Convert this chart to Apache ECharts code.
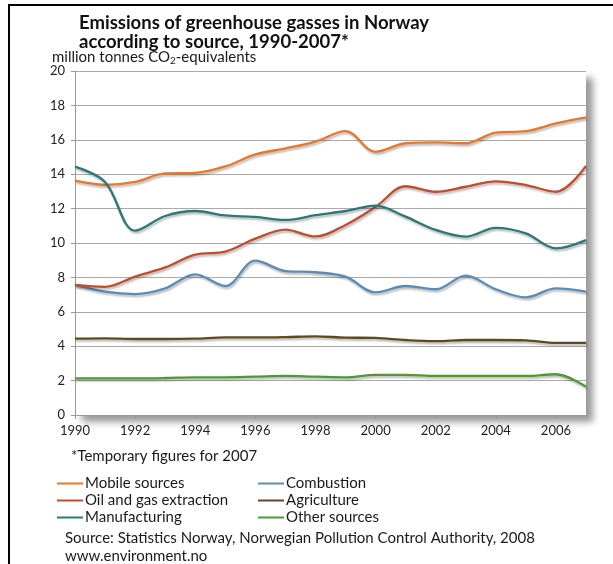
<!DOCTYPE html>
<html>
<head>
<meta charset="utf-8">
<script src="https://cdn.jsdelivr.net/npm/echarts@6/dist/echarts.min.js"></script>
<style>
html,body{margin:0;padding:0;background:#fff;}
#c{width:613px;height:564px;}
</style>
</head>
<body>
<div id="c"></div>
<script>
var years = ['1990','1991','1992','1993','1994','1995','1996','1997','1998','1999','2000','2001','2002','2003','2004','2005','2006','2007'];
var mobileSources = [13.62,13.38,13.55,14.05,14.08,14.45,15.15,15.5,15.9,16.5,15.3,15.8,15.85,15.8,16.42,16.5,16.95,17.3];
var oilGasExtraction = [7.56,7.45,8.05,8.58,9.32,9.5,10.25,10.78,10.38,11.05,12.1,13.3,12.98,13.27,13.58,13.37,12.98,14.48];
var manufacturing = [14.44,13.55,10.72,11.57,11.86,11.6,11.52,11.34,11.62,11.86,12.17,11.53,10.76,10.37,10.88,10.56,9.69,10.17];
var combustion = [7.56,7.17,7.03,7.36,8.18,7.5,8.97,8.37,8.3,8.04,7.13,7.5,7.31,8.1,7.31,6.84,7.36,7.17];
var agriculture = [4.44,4.46,4.42,4.42,4.44,4.51,4.51,4.53,4.57,4.5,4.48,4.36,4.3,4.36,4.36,4.34,4.19,4.19];
var otherSources = [2.13,2.13,2.13,2.15,2.19,2.19,2.23,2.27,2.23,2.19,2.33,2.33,2.27,2.27,2.27,2.27,2.37,1.65];
var yTicks = [0,2,4,6,8,10,12,14,16,18,20];

var FONT = 'Lato, "Open Sans", sans-serif';
var chart = echarts.init(document.getElementById('c'), null, {renderer:'canvas'});

function mkSeries(name, data, color){
  return {
    name: name, type: 'line', data: data, smooth: 0.35, symbol: 'none',
    lineStyle: {color: color, width: 2.3, shadowColor: 'rgba(0,0,0,0.28)', shadowBlur: 2, shadowOffsetX: 1, shadowOffsetY: 2},
    itemStyle: {color: color}
  };
}
var legendText = {fontSize: 15, color: '#1a1a1a', lineHeight: 17, padding: [0,0,0,-3], fontFamily: FONT};

var option = {
  animation: false,
  backgroundColor: '#fff',
  textStyle: {fontFamily: FONT},
  title: {
    text: 'Emissions of greenhouse gasses in Norway\naccording to source, 1990-2007*',
    left: 79, top: 14, padding: 0,
    textStyle: {fontFamily: FONT, fontSize: 18.5, fontWeight: 'bold', color: '#111', lineHeight: 18.5}
  },
  grid: {
    left: 75, right: 27, top: 71, bottom: 149,
    show: true, backgroundColor: '#fff', borderWidth: 0,
    shadowColor: 'rgba(0,0,0,0.4)', shadowBlur: 7, shadowOffsetX: 7, shadowOffsetY: 7
  },
  xAxis: {
    type: 'category', data: years, boundaryGap: false,
    axisLine: {show: true, lineStyle: {color: '#999', width: 1}},
    axisTick: {show: true, length: 4, interval: function(i){return i % 2 === 0;}, lineStyle: {color: '#999'}},
    axisLabel: {interval: function(i){return i % 2 === 0;}, fontSize: 13, color: '#222', margin: 9, fontFamily: FONT},
    splitLine: {show: false}
  },
  yAxis: {
    type: 'value', min: yTicks[0], max: yTicks[yTicks.length-1], interval: 2,
    axisLine: {show: true, lineStyle: {color: '#999', width: 1}},
    axisTick: {show: true, length: 4, lineStyle: {color: '#999'}},
    axisLabel: {fontSize: 13, color: '#222', margin: 10, fontFamily: FONT},
    splitLine: {show: true, lineStyle: {color: '#aaa', width: 1}}
  },
  legend: [
    {
      data: ['Mobile sources','Oil and gas extraction','Manufacturing'],
      orient: 'vertical', left: 57, top: 475, itemGap: 0, padding: 0,
      itemWidth: 26, itemHeight: 2, icon: 'rect', textStyle: legendText
    },
    {
      data: ['Combustion','Agriculture','Other sources'],
      orient: 'vertical', left: 258, top: 475, itemGap: 0, padding: 0,
      itemWidth: 26, itemHeight: 2, icon: 'rect', textStyle: legendText
    }
  ],
  series: [
    mkSeries('Mobile sources', mobileSources, '#E8772A'),
    mkSeries('Combustion', combustion, '#5A8CB6'),
    mkSeries('Oil and gas extraction', oilGasExtraction, '#BF4E2C'),
    mkSeries('Agriculture', agriculture, '#5E4A1E'),
    mkSeries('Manufacturing', manufacturing, '#2C7876'),
    mkSeries('Other sources', otherSources, '#4E9A32')
  ],
  graphic: [
    {type: 'polyline', shape: {points: [[9,564],[9,5],[613,5]]}, style: {stroke: '#000', lineWidth: 2, fill: null}, silent: true},
    {type: 'text', left: 52, top: 50, style: {
      text: 'million tonnes CO{s|2}-equivalents',
      font: '15px ' + FONT, fill: '#1a1a1a',
      rich: {s: {fontSize: 10, padding: [7,0,0,0], fill: '#1a1a1a', fontFamily: FONT}}
    }},
    {type: 'text', left: 71, top: 449, style: {text: '*Temporary figures for 2007', font: '15px ' + FONT, fill: '#1a1a1a'}},
    {type: 'text', left: 65, top: 531, style: {text: 'Source: Statistics Norway, Norwegian Pollution Control Authority, 2008', font: '15px ' + FONT, fill: '#1a1a1a'}},
    {type: 'text', left: 65, top: 549, style: {text: 'www.environment.no', font: '15px ' + FONT, fill: '#1a1a1a'}}
  ]
};
chart.setOption(option);
</script>
</body>
</html>
